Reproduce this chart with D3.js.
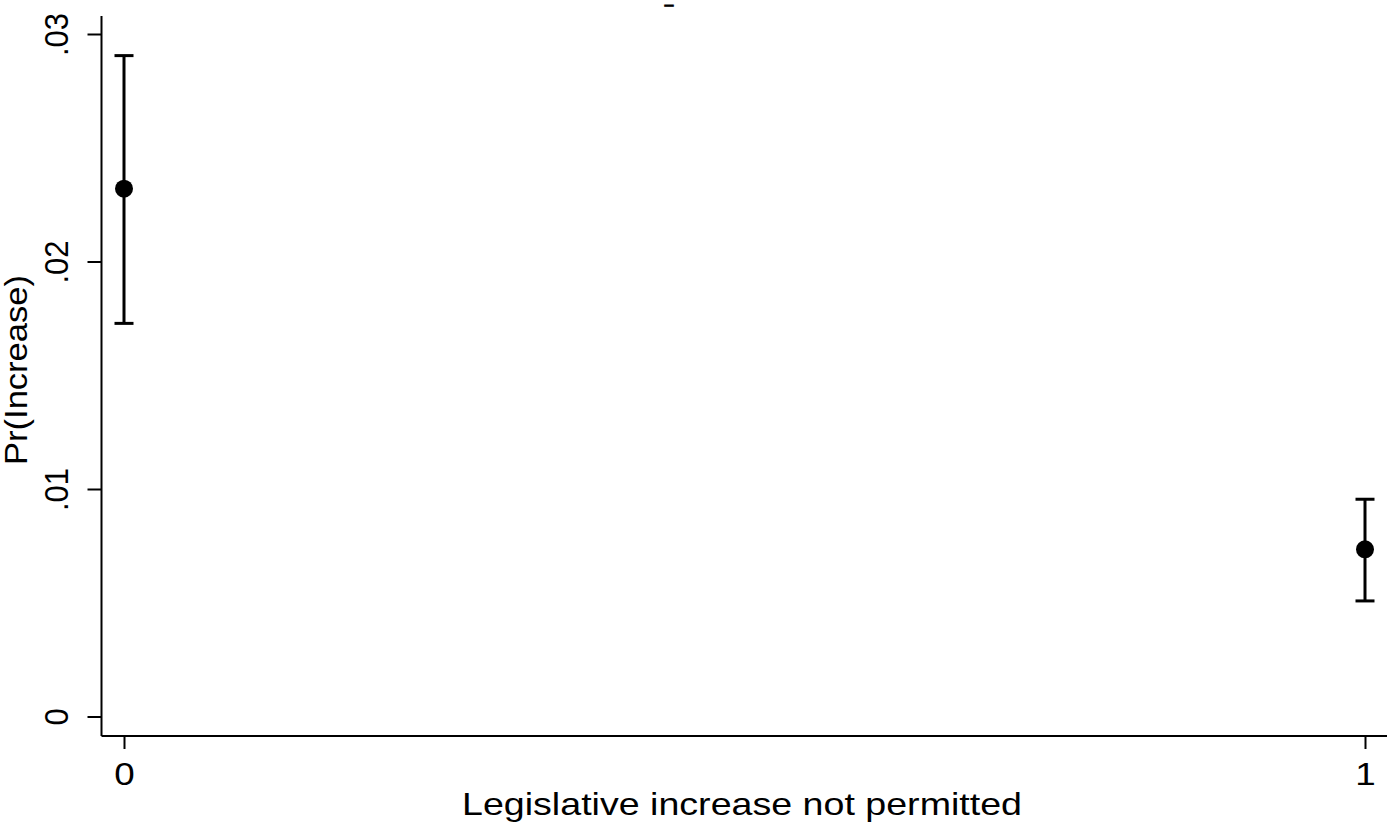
<!DOCTYPE html>
<html>
<head>
<meta charset="utf-8">
<script src="https://cdn.jsdelivr.net/npm/d3@7"></script>
<style>
  body { margin: 0; background: #fff; }
  text { font-family: "Liberation Sans", Arial, sans-serif; fill: #000; }
</style>
</head>
<body>
<div id="chart"></div>
<script>
!function () {
  'use strict';

  // groups and predicted probabilities with 95% CI
  var groups = [0, 1];
  var estimates = [0.0232, 0.00735];
  var lowerCI = [0.01728, 0.00508];
  var upperCI = [0.02905, 0.00955];
  var yTicks = [0, 0.01, 0.02, 0.03];
  var yTickLabels = ["0", ".01", ".02", ".03"];
  var xTickLabels = ["0", "1"];

  var width = 1393, height = 828;

  var svg = d3.select("#chart").append("svg")
    .attr("width", width)
    .attr("height", height);

  var x = d3.scaleLinear().domain([0, 1]).range([124, 1365]);
  var y = d3.scaleLinear().domain([0, 0.03]).range([716.5, 34]);

  var left = 101.5, bottom = 736, top = 16, right = 1387;

  // axis lines
  svg.append("line")
    .attr("x1", left).attr("x2", left)
    .attr("y1", top).attr("y2", bottom)
    .style("stroke", "#000").style("stroke-width", 2);
  svg.append("line")
    .attr("x1", left).attr("x2", right)
    .attr("y1", bottom).attr("y2", bottom)
    .style("stroke", "#000").style("stroke-width", 2);

  // y axis
  var yAxis = svg.append("g")
    .attr("transform", "translate(" + left + ",0)")
    .call(d3.axisLeft(y)
      .tickValues(yTicks)
      .tickSize(14)
      .tickFormat(function (d, i) { return yTickLabels[i]; }));
  yAxis.select(".domain").remove();
  yAxis.selectAll(".tick line").style("stroke", "#000").style("stroke-width", 2);
  yAxis.selectAll(".tick text")
    .attr("x", 0).attr("dy", 0)
    .attr("text-anchor", "middle")
    .attr("transform", "translate(-34,0) rotate(-90) scale(1,1.1)")
    .style("font-size", "31px")
    .style("font-family", "'Liberation Sans', Arial, sans-serif");

  // x axis
  var xAxis = svg.append("g")
    .attr("transform", "translate(0," + bottom + ")")
    .call(d3.axisBottom(x)
      .tickValues(groups)
      .tickSize(13)
      .tickFormat(function (d, i) { return xTickLabels[i]; }));
  xAxis.select(".domain").remove();
  xAxis.selectAll(".tick line").style("stroke", "#000").style("stroke-width", 2);
  xAxis.selectAll(".tick text")
    .attr("y", 49).attr("dy", 0)
    .attr("transform", "scale(1.15,1)")
    .style("font-size", "32px")
    .style("font-family", "'Liberation Sans', Arial, sans-serif");

  // axis titles
  svg.append("text")
    .attr("x", 742).attr("y", 815)
    .attr("text-anchor", "middle")
    .attr("textLength", 560)
    .attr("lengthAdjust", "spacingAndGlyphs")
    .style("font-size", "32px")
    .text("Legislative increase not permitted");

  svg.append("text")
    .attr("transform", "translate(27,370) rotate(-90)")
    .attr("text-anchor", "middle")
    .attr("textLength", 190)
    .attr("lengthAdjust", "spacingAndGlyphs")
    .style("font-size", "31px")
    .text("Pr(Increase)");

  // stray title mark at the top
  svg.append("text")
    .attr("x", 669).attr("y", 27)
    .attr("text-anchor", "middle")
    .attr("textLength", 9)
    .attr("lengthAdjust", "spacingAndGlyphs")
    .style("font-size", "30px")
    .style("stroke", "#000")
    .style("stroke-width", 0.8)
    .text("\u00AF");

  var data = groups.map(function (g, i) {
    return { g: g, est: estimates[i], lo: lowerCI[i], hi: upperCI[i] };
  });

  var bars = svg.selectAll("g.ci")
    .data(data)
    .enter().append("g")
    .attr("class", "ci")
    .style("stroke", "#000")
    .style("stroke-width", 3);

  bars.append("line")
    .attr("x1", function (d) { return x(d.g); })
    .attr("x2", function (d) { return x(d.g); })
    .attr("y1", function (d) { return y(d.lo); })
    .attr("y2", function (d) { return y(d.hi); });
  bars.append("line")
    .attr("x1", function (d) { return x(d.g) - 9.5; })
    .attr("x2", function (d) { return x(d.g) + 9.5; })
    .attr("y1", function (d) { return y(d.hi); })
    .attr("y2", function (d) { return y(d.hi); });
  bars.append("line")
    .attr("x1", function (d) { return x(d.g) - 9.5; })
    .attr("x2", function (d) { return x(d.g) + 9.5; })
    .attr("y1", function (d) { return y(d.lo); })
    .attr("y2", function (d) { return y(d.lo); });

  svg.selectAll("circle.point")
    .data(data)
    .enter().append("circle")
    .attr("class", "point")
    .attr("cx", function (d) { return x(d.g); })
    .attr("cy", function (d) { return y(d.est); })
    .attr("r", 9)
    .style("fill", "#000");

}();
</script>
</body>
</html>
